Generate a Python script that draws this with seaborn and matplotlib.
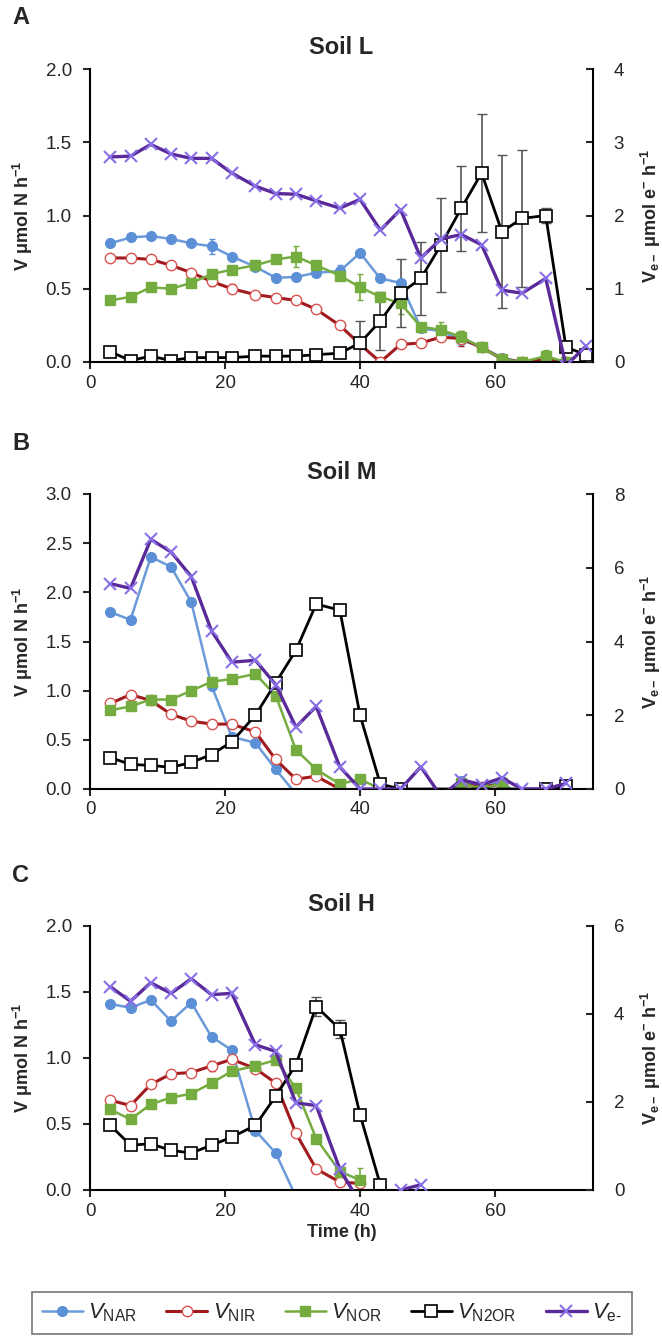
import numpy as np
import matplotlib
matplotlib.use("Agg")
import matplotlib.pyplot as plt
import seaborn as sns
from matplotlib.lines import Line2D

nan = np.nan

# sampling times (h), same for all soils
hours = [3, 6, 9, 12, 15, 18, 21, 24.5, 27.5, 30.5, 33.5, 37, 40, 43, 46, 49,
         52, 55, 58, 61, 64, 67.5, 70.5, 73.5]

# Soil L  (left axis: umol N h-1, right axis: umol e- h-1)
a_nar = [0.81, 0.85, 0.86, 0.84, 0.81, 0.79, 0.72, 0.65, 0.575, 0.58, 0.61, 0.62,
         0.745, 0.57, 0.54, 0.23, 0.21, 0.15, 0.10, 0.03, 0.0, 0.0, nan, nan]
a_nar_err = [0, 0, 0, 0, 0, 0.05, 0, 0, 0, 0, 0, 0.04, 0, 0, 0, 0, 0, 0, 0, 0, 0, 0, 0, 0]
a_nir = [0.71, 0.71, 0.70, 0.66, 0.61, 0.55, 0.50, 0.46, 0.44, 0.42, 0.36, 0.25,
         0.12, 0.0, 0.12, 0.13, 0.17, 0.16, 0.10, 0.02, 0.0, 0.02, 0.0, nan]
a_nir_err = [0, 0, 0, 0, 0, 0.03, 0.03, 0, 0, 0, 0, 0, 0, 0.03, 0, 0, 0, 0.05, 0, 0, 0, 0, 0, 0]
a_nor = [0.42, 0.445, 0.51, 0.50, 0.54, 0.60, 0.63, 0.66, 0.70, 0.72, 0.66, 0.59,
         0.51, 0.445, 0.40, 0.24, 0.22, 0.17, 0.10, 0.02, 0.0, 0.04, 0.0, nan]
a_nor_err = [0, 0, 0, 0, 0, 0, 0, 0, 0, 0.07, 0, 0, 0.09, 0, 0.07, 0, 0.05, 0.04, 0, 0, 0, 0.04, 0, 0]
a_n2or = [0.07, 0.01, 0.04, 0.01, 0.03, 0.03, 0.03, 0.04, 0.04, 0.04, 0.05, 0.06,
          0.13, 0.28, 0.47, 0.57, 0.80, 1.05, 1.29, 0.89, 0.98, 1.00, 0.10, 0.05]
a_n2or_err = [0, 0, 0, 0, 0, 0, 0, 0, 0, 0, 0, 0.02,
              0.15, 0.2, 0.23, 0.25, 0.32, 0.29, 0.40, 0.52, 0.47, 0.05, 0, 0]
a_e = [2.80, 2.81, 2.97, 2.84, 2.78, 2.78, 2.58, 2.40, 2.30, 2.29, 2.20, 2.10,
       2.22, 1.80, 2.08, 1.42, 1.68, 1.74, 1.60, 0.98, 0.94, 1.14, -0.05, 0.22]

# Soil M
b_nar = [1.80, 1.72, 2.36, 2.26, 1.90, 1.05, 0.53, 0.47, 0.20, -0.05, nan, nan,
         nan, nan, nan, nan, -0.1, 0.08, 0.02, 0.08, -0.1, nan, nan, nan]
b_nir = [0.87, 0.96, 0.90, 0.76, 0.69, 0.66, 0.66, 0.58, 0.30, 0.10, 0.13, 0.0,
         nan, nan, nan, nan, -0.1, 0.05, 0.02, 0.05, -0.1, nan, nan, nan]
b_nor = [0.80, 0.84, 0.91, 0.91, 1.00, 1.09, 1.12, 1.17, 0.95, 0.40, 0.20, 0.05,
         0.10, 0.0, -0.1, nan, -0.1, 0.06, 0.0, 0.06, -0.1, nan, nan, nan]
b_n2or = [0.32, 0.25, 0.24, 0.22, 0.27, 0.35, 0.48, 0.75, 1.08, 1.41, 1.88, 1.82,
          0.75, 0.05, 0.0, nan, nan, nan, nan, nan, nan, 0.0, 0.03, nan]
b_n2or_err = [0, 0, 0, 0, 0, 0, 0, 0, 0, 0, 0.05, 0.05, 0, 0, 0, 0, 0, 0, 0, 0, 0, 0, 0, 0]
b_e = [5.57, 5.44, 6.77, 6.43, 5.76, 4.29, 3.44, 3.49, 2.83, 1.68, 2.24, 0.60,
       0.0, 0.0, 0.0, 0.60, -0.2, 0.25, 0.12, 0.30, 0.0, 0.0, 0.15, nan]

# Soil H
c_nar = [1.41, 1.38, 1.44, 1.28, 1.42, 1.16, 1.06, 0.45, 0.28, -0.05, nan, nan,
         nan, nan, nan, nan, nan, nan, nan, nan, nan, nan, nan, nan]
c_nir = [0.68, 0.64, 0.80, 0.88, 0.89, 0.94, 0.99, 0.92, 0.81, 0.43, 0.16, 0.06,
         0.05, nan, nan, nan, nan, nan, nan, nan, nan, nan, nan, nan]
c_nir_err = [0, 0, 0, 0, 0, 0.04, 0.03, 0, 0, 0, 0, 0, 0, 0, 0, 0, 0, 0, 0, 0, 0, 0, 0, 0]
c_nor = [0.61, 0.535, 0.65, 0.70, 0.73, 0.81, 0.90, 0.94, 0.985, 0.77, 0.39, 0.14,
         0.075, nan, nan, nan, nan, nan, nan, nan, nan, nan, nan, nan]
c_nor_err = [0, 0, 0, 0, 0, 0, 0, 0, 0, 0.03, 0, 0, 0.09, 0, 0, 0, 0, 0, 0, 0, 0, 0, 0, 0]
c_n2or = [0.49, 0.34, 0.35, 0.30, 0.28, 0.34, 0.40, 0.49, 0.71, 0.95, 1.39, 1.22,
          0.57, 0.04, nan, nan, nan, nan, nan, nan, nan, nan, nan, nan]
c_n2or_err = [0, 0, 0, 0, 0, 0, 0, 0, 0, 0, 0.07, 0.07, 0, 0.03, 0, 0, 0, 0, 0, 0, 0, 0, 0, 0]
c_e = [4.62, 4.29, 4.71, 4.47, 4.80, 4.44, 4.47, 3.30, 3.15, 1.98, 1.92, 0.48,
       -0.3, nan, 0.0, 0.12, nan, nan, nan, nan, nan, nan, nan, nan]

titles = ["Soil L", "Soil M", "Soil H"]
letters = ["A", "B", "C"]
left_lims = [(2.0, 0.5), (3.0, 0.5), (2.0, 0.5)]
right_lims = [(4, 1), (8, 2), (6, 2)]

sns.set_style("white")
plt.rcParams['font.family'] = ['Liberation Sans', 'DejaVu Sans']
plt.rcParams['mathtext.fontset'] = 'custom'
plt.rcParams['mathtext.rm'] = 'Liberation Sans'
plt.rcParams['mathtext.it'] = 'Liberation Sans:italic'
plt.rcParams['mathtext.bf'] = 'Liberation Sans:bold'

st = {
    'nar': dict(color='#6A9AD9', marker='o', markerfacecolor='#5B8FD6', markeredgecolor='#5B8FD6',
                markersize=7, lw=1.8, markeredgewidth=1),
    'nir': dict(color='#A01A1E', marker='o', markerfacecolor='white', markeredgecolor='#D9534F',
                markersize=7.5, lw=2.2, markeredgewidth=1),
    'nor': dict(color='#74AC40', marker='s', markerfacecolor='#74AC40', markeredgecolor='#74AC40',
                markersize=6.5, lw=1.8, markeredgewidth=1),
    'n2or': dict(color='black', marker='s', markerfacecolor='white', markeredgecolor='black',
                 markersize=8, lw=2, markeredgewidth=1.2),
    'e': dict(color='#5A2A9A', marker='x', markeredgecolor='#8A70E8', markersize=8,
              lw=2.4, markeredgewidth=1.5),
}
err_col = {'nar': '#5B8FD6', 'nir': '#A01A1E', 'nor': '#74AC40', 'n2or': '#555555'}

fig = plt.figure(figsize=(6.62, 13.37), dpi=100)
W, H = 662, 1337
boxes = [(69, 362), (494, 789), (926, 1190)]
x0, x1 = 90, 593

panels = [
    dict(nar=a_nar, nir=a_nir, nor=a_nor, n2or=a_n2or, e=a_e,
         err=dict(nar=a_nar_err, nir=a_nir_err, nor=a_nor_err, n2or=a_n2or_err)),
    dict(nar=b_nar, nir=b_nir, nor=b_nor, n2or=b_n2or, e=b_e,
         err=dict(n2or=b_n2or_err)),
    dict(nar=c_nar, nir=c_nir, nor=c_nor, n2or=c_n2or, e=c_e,
         err=dict(nir=c_nir_err, nor=c_nor_err, n2or=c_n2or_err)),
]

for i, p in enumerate(panels):
    top, bot = boxes[i]
    ax = fig.add_axes([x0 / W, 1 - bot / H, (x1 - x0) / W, (bot - top) / H])
    ax2 = ax.twinx()
    for key, yerr in p['err'].items():
        cap = 3.5 if key == 'n2or' else 2
        ax.errorbar(hours, p[key], yerr=yerr, fmt='none', ecolor=err_col[key],
                    elinewidth=1.2, capsize=cap, zorder=1)
    for key in ['nar', 'nir', 'nor', 'n2or']:
        sns.lineplot(x=hours, y=p[key], ax=ax, **st[key])
    sns.lineplot(x=hours, y=p['e'], ax=ax2, **st['e'])

    ymax, ystep = left_lims[i]
    yt = np.arange(0, ymax + 0.01, ystep)
    ax.set_ylim(0, ymax)
    ax.set_yticks(yt)
    ax.set_yticklabels([f"{v:.1f}" for v in yt])
    rmax, rstep = right_lims[i]
    ax2.set_ylim(0, rmax)
    ax2.set_yticks(np.arange(0, rmax + 0.01, rstep))
    ax.set_xlim(0, 74.5)
    ax.set_xticks([0, 20, 40, 60])
    ax.set_ylabel("")
    ax2.set_ylabel("")

    for a in (ax, ax2):
        a.spines['top'].set_visible(False)
        for s in a.spines.values():
            s.set_linewidth(1.5)
            s.set_color('black')
    ax.spines['right'].set_visible(False)
    ax2.spines['left'].set_visible(False)
    ax2.spines['bottom'].set_visible(False)
    ax.tick_params(axis='y', direction='out', length=5, width=1.5, labelsize=13.5,
                   left=True, pad=8)
    ax.tick_params(axis='x', direction='out', length=5, width=1.5, labelsize=13.5,
                   bottom=True, pad=4)
    ax2.tick_params(axis='y', direction='in', length=5, width=1.5, labelsize=13.5,
                    right=True, pad=15)

    ax.set_title(titles[i], fontsize=17, fontweight='bold', pad=11)
    fig.text(12 / W, 1 - (top - 51) / H, letters[i], fontsize=17, fontweight='bold',
             va='center', ha='left')
    yc = 1 - (top + bot) / 2 / H
    fig.text(23 / W, yc, r"$\mathbf{V}$ μmol N h$^{\mathbf{-1}}$", rotation=90,
             fontsize=13, fontweight='bold', va='center', ha='center')
    fig.text(651 / W, yc, r"$\mathbf{V_{e-}}$ μmol e$^{\mathbf{-}}$ h$^{\mathbf{-1}}$",
             rotation=90, fontsize=13, fontweight='bold', va='center', ha='center')
    if i == 2:
        ax.set_xlabel("Time (h)", fontsize=13, fontweight='bold', labelpad=3)

handles = [Line2D([], [], **st[k]) for k in ['nar', 'nir', 'nor', 'n2or', 'e']]
labels = [r"$V_{\mathrm{NAR}}$", r"$V_{\mathrm{NIR}}$", r"$V_{\mathrm{NOR}}$",
          r"$V_{\mathrm{N2OR}}$", r"$V_{\mathrm{e\text{-}}}$"]
leg = fig.legend(handles, labels, loc='center', bbox_to_anchor=(332 / W, 1 - 1313 / H),
                 ncol=5, fontsize=16, frameon=True, fancybox=False, handlelength=1.85,
                 handletextpad=0.25, columnspacing=1.3, borderpad=0.45)
leg.get_frame().set_edgecolor('#555555')
leg.get_frame().set_linewidth(1.2)

fig.savefig("out.png", dpi=100)
